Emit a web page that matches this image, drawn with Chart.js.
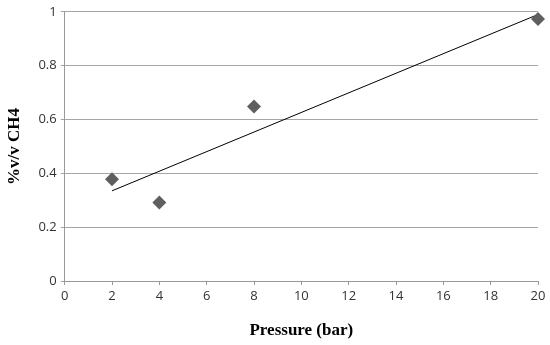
<!DOCTYPE html>
<html>
<head>
<meta charset="utf-8">
<script src="https://cdn.jsdelivr.net/npm/chart.js@4"></script>
<style>
  body { margin: 0; background: #fff; }
  #wrap { width: 550px; height: 345px; }
</style>
</head>
<body>
<div id="wrap"><canvas id="myChart"></canvas></div>
<script>
  // measured points
  const pressure = [2, 4, 8, 20];
  const ch4 = [0.378, 0.292, 0.648, 0.973];
  // linear trendline ends
  const trendX = [2, 20];
  const trendY = [0.335, 0.99];

  const xTicks = { min: 0, max: 20, step: 2 };
  const yTicks = { min: 0, max: 1, step: 0.2 };

  const ctx = document.getElementById("myChart").getContext("2d");
  const myChart = new Chart(ctx, {
    type: "scatter",
    data: {
      datasets: [
        {
          label: "%v/v CH4",
          data: pressure.map((x, i) => ({ x: x, y: ch4[i] })),
          pointStyle: "rectRot",
          pointRadius: 7,
          pointHoverRadius: 7,
          backgroundColor: "#5f5f5f",
          borderColor: "#5f5f5f",
          borderWidth: 0,
          clip: false,
        },
        {
          label: "Linear",
          type: "line",
          data: trendX.map((x, i) => ({ x: x, y: trendY[i] })),
          borderColor: "#000000",
          borderWidth: 1,
          pointRadius: 0,
          fill: false,
          clip: false,
        },
      ],
    },
    options: {
      responsive: true,
      maintainAspectRatio: false,
      animation: false,
      layout: {
        padding: { top: 4, right: 12, left: 4, bottom: 4 },
      },
      plugins: {
        legend: { display: false },
        tooltip: { enabled: false },
      },
      scales: {
        x: {
          type: "linear",
          min: xTicks.min,
          max: xTicks.max,
          ticks: {
            stepSize: xTicks.step,
            color: "#333",
            padding: 3,
            font: { family: "Open Sans", size: 13 },
          },
          grid: {
            drawOnChartArea: false,
            drawTicks: true,
            tickLength: 4,
            color: "#999",
          },
          border: { color: "#999", width: 1 },
          title: {
            display: true,
            text: "Pressure (bar)",
            color: "#000",
            padding: { top: 14, bottom: 0 },
            font: { family: "Liberation Serif", size: 17, weight: "bold" },
          },
        },
        y: {
          min: yTicks.min,
          max: yTicks.max,
          ticks: {
            stepSize: yTicks.step,
            color: "#333",
            padding: 4,
            font: { family: "Open Sans", size: 13 },
            callback: (v) => String(Math.round(v * 10) / 10),
          },
          grid: {
            drawTicks: true,
            tickLength: 4,
            color: "#a6a6a6",
          },
          border: { color: "#999", width: 1 },
          title: {
            display: true,
            text: "%v/v CH4",
            color: "#000",
            padding: { top: 0, bottom: 10 },
            font: { family: "Liberation Serif", size: 17, weight: "bold" },
          },
        },
      },
    },
  });
</script>
</body>
</html>
